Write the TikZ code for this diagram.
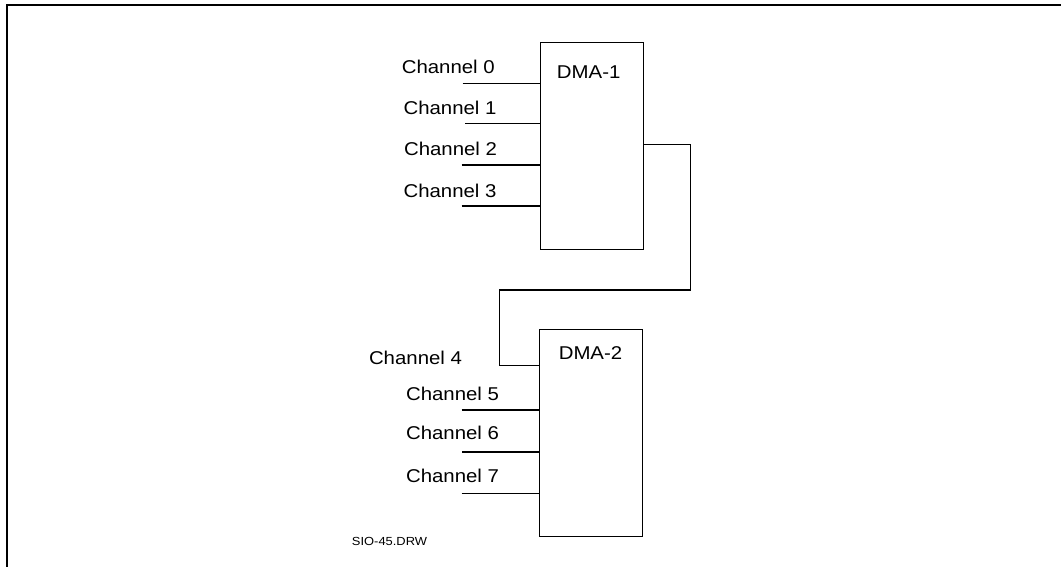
\documentclass[tikz,border=0pt]{standalone}
\usepackage{fontspec}
\setmainfont{Liberation Sans}[FakeStretch=1.1]
\usepackage{tikz}
\usetikzlibrary{positioning}
\tikzset{dmabox/.style = {draw, line width = 0.8pt, inner sep = 0,
                          minimum width = 77.4pt, minimum height = 155pt}}
\tikzset{chan/.style = {inner sep = 0, anchor = base,
                        font = \fontsize{13.9}{16}\selectfont}}
\tikzset{wire/.style = {line width = 0.8pt}}
\tikzset{frame/.style = {line width = 1.2pt}}

\begin{document}
\begin{tikzpicture}[x = 0.75pt, y = -0.75pt]
    \useasboundingbox (0, 0) rectangle (1061, 567);
    \draw [frame] (7, 567) -- (7, 5) -- (1061, 5);

    \node [dmabox] (dma1) at (592.3, 145.8) {};
    \node [chan] (dma1text) at (588.7, 78.3) {DMA-1};
    \node [dmabox] (dma2) at (591, 432.7) {};
    \node [chan] (dma2text) at (590.5, 359.3) {DMA-2};

    \node [chan] (ch0) at (448.3, 74) {Channel 0};
    \coordinate (ch0end) at (462.7, 83.3);
    \draw [wire] (ch0end) -- (ch0end -| dma1.west);

    \node [chan] (ch1) at (450, 115) {Channel 1};
    \coordinate (ch1end) at (465, 123.3);
    \draw [wire] (ch1end) -- (ch1end -| dma1.west);

    \node [chan] (ch2) at (450.5, 156) {Channel 2};
    \coordinate (ch2end) at (461.7, 165);
    \draw [wire] (ch2end) -- (ch2end -| dma1.west);

    \node [chan] (ch3) at (450, 197.3) {Channel 3};
    \coordinate (ch3end) at (461.7, 206);
    \draw [wire] (ch3end) -- (ch3end -| dma1.west);

    % cascade from DMA-1 into channel 4 of DMA-2
    \node [chan] (ch4) at (415.5, 364.3) {Channel 4};
    \coordinate (cas1) at (690.7, 144.3);
    \coordinate (cas2) at (690.7, 290);
    \coordinate (cas3) at (499.3, 290);
    \coordinate (cas4) at (499.3, 365.7);
    \draw [wire] (dma1.east |- cas1) -- (cas1) -- (cas2) -- (cas3) -- (cas4) -- (cas4 -| dma2.west);

    \node [chan] (ch5) at (452.5, 400) {Channel 5};
    \coordinate (ch5end) at (461.7, 410);
    \draw [wire] (ch5end) -- (ch5end -| dma2.west);

    \node [chan] (ch6) at (452.5, 439.3) {Channel 6};
    \coordinate (ch6end) at (462.3, 452);
    \draw [wire] (ch6end) -- (ch6end -| dma2.west);

    \node [chan] (ch7) at (452.5, 482) {Channel 7};
    \coordinate (ch7end) at (461.7, 493.3);
    \draw [wire] (ch7end) -- (ch7end -| dma2.west);

    \node [chan, font = \fontsize{8.8}{10}\selectfont] (drw) at (389.5, 545) {SIO-45.DRW};
  \end{tikzpicture}
\end{document}
